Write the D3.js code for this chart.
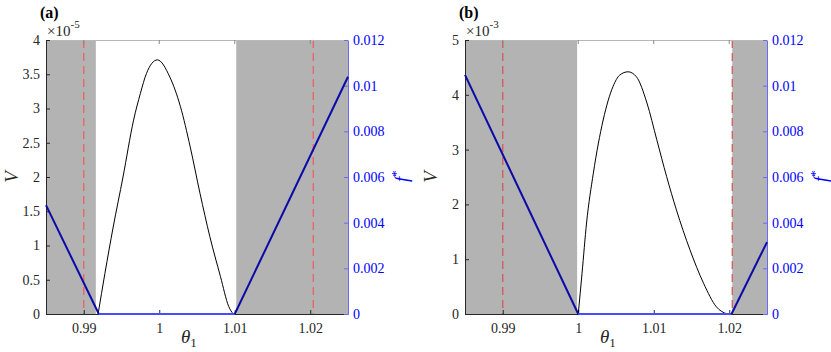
<!DOCTYPE html>
<html>
<head>
<meta charset="utf-8">
<script src="https://cdn.jsdelivr.net/npm/d3@7"></script>
<style>
  body { margin: 0; background: #fff; }
  #chart, #chart text { font-family: 'Liberation Serif', 'DejaVu Serif', 'Times New Roman', Times, serif !important; }
</style>
</head>
<body>
<svg id="chart" width="831" height="352"></svg>
<script>
// ---- data ----
const xTicks = [0.99, 1, 1.01, 1.02];
const xTickLabels = ["0.99", "1", "1.01", "1.02"];
const fTicks = [0, 0.002, 0.004, 0.006, 0.008, 0.01, 0.012];
const fTickLabels = ["0", "0.002", "0.004", "0.006", "0.008", "0.01", "0.012"];

// panel (a): V in units of 1e-5
const vTicksA = [0, 0.5, 1, 1.5, 2, 2.5, 3, 3.5, 4];
const vTickLabelsA = ["0", "0.5", "1", "1.5", "2", "2.5", "3", "3.5", "4"];
const thetaA = [0.9919, 0.9928, 0.9939, 0.9952, 0.9966, 0.9975, 0.9983, 0.99975, 1.0014, 1.0028, 1.0041, 1.0054, 1.0067, 1.0081, 1.0092, 1.0098];
const vA = [0, 0.59, 1.27, 2.00, 2.83, 3.22, 3.51, 3.71, 3.46, 3.03, 2.44, 1.76, 1.13, 0.55, 0.11, 0];
const fThetaA = [0.985, 0.9920, 1.0100, 1.025];
const fA = [0.00477, 0, 0, 0.01039];
const grayA = [[0.985, 0.9916], [1.0102, 1.025]];
const redA = [0.99, 1.0204];

// panel (b): V in units of 1e-3
const vTicksB = [0, 1, 2, 3, 4, 5];
const vTickLabelsB = ["0", "1", "2", "3", "4", "5"];
const thetaB = [1.0000, 1.0005, 1.0011, 1.0020, 1.0033, 1.0046, 1.0055, 1.0066, 1.0077, 1.0091, 1.0104, 1.0117, 1.0130, 1.0148, 1.0166, 1.0183, 1.0197];
const vB = [0, 0.74, 1.66, 2.57, 3.54, 4.15, 4.36, 4.42, 4.33, 3.85, 3.18, 2.51, 1.90, 1.17, 0.56, 0.13, 0];
const fThetaB = [0.985, 1.0000, 1.0203, 1.025];
const fB = [0.01047, 0, 0, 0.00315];
const grayB = [[0.985, 0.99985], [1.0204, 1.025]];
const redB = [0.99, 1.0204];

const svg = d3.select("#chart");
const plotTop = 40, plotBottom = 314;
const tickFont = 14;

function drawPanel(p) {
    const x = d3.scaleLinear().domain([0.985, 1.025]).range([p.left, p.right]);
    const yV = d3.scaleLinear().domain([0, p.vMax]).range([plotBottom, plotTop]);
    const yF = d3.scaleLinear().domain([0, 0.012]).range([plotBottom, plotTop]);
    const g = svg.append("g");

    // shaded regions
    g.selectAll("rect.shade").data(p.gray).enter().append("rect")
        .attr("x", d => x(d[0]))
        .attr("y", plotTop)
        .attr("width", d => x(d[1]) - x(d[0]))
        .attr("height", plotBottom - plotTop)
        .attr("fill", "#b3b3b3");

    // red dashed markers
    g.selectAll("line.red").data(p.red).enter().append("line")
        .attr("x1", d => x(d)).attr("x2", d => x(d))
        .attr("y1", plotTop).attr("y2", plotBottom)
        .attr("stroke", p.redColor)
        .attr("stroke-width", 1.3)
        .attr("stroke-dasharray", "8,5");

    // top border + top ticks
    g.append("line")
        .attr("x1", p.left).attr("x2", p.right)
        .attr("y1", plotTop + 0.5).attr("y2", plotTop + 0.5)
        .attr("stroke", "#b8b8b8");
    g.selectAll("line.ttick").data(xTicks).enter().append("line")
        .attr("x1", d => x(d)).attr("x2", d => x(d))
        .attr("y1", plotTop).attr("y2", plotTop + 4)
        .attr("stroke", "#888");

    // bottom axis
    const xAxis = d3.axisBottom(x).tickValues(xTicks)
        .tickFormat((d, i) => xTickLabels[i])
        .tickSizeInner(-4).tickSizeOuter(0).tickPadding(9);
    const gx = g.append("g").attr("transform", `translate(0,${plotBottom})`).call(xAxis);
    gx.select(".domain").attr("stroke", "#262626");
    gx.selectAll(".tick line").attr("stroke", "#262626");
    gx.selectAll("text").attr("font-size", tickFont).attr("fill", "#262626");

    // left axis
    const yAxis = d3.axisLeft(yV).tickValues(p.vTicks)
        .tickFormat((d, i) => p.vTickLabels[i])
        .tickSizeInner(-4).tickSizeOuter(0).tickPadding(6);
    const gy = g.append("g").attr("transform", `translate(${p.left},0)`).call(yAxis);
    gy.select(".domain").attr("stroke", "#262626");
    gy.selectAll(".tick line").attr("stroke", "#262626");
    gy.selectAll("text").attr("font-size", tickFont).attr("fill", "#262626");

    // right axis
    const fAxis = d3.axisRight(yF).tickValues(fTicks)
        .tickFormat((d, i) => fTickLabels[i])
        .tickSizeInner(-4).tickSizeOuter(0).tickPadding(5);
    const gf = g.append("g").attr("transform", `translate(${p.right},0)`).call(fAxis);
    gf.select(".domain").attr("stroke", "#6a6aff");
    gf.selectAll(".tick line").attr("stroke", "#6a6aff");
    gf.selectAll("text").attr("font-size", tickFont).attr("fill", "#0000ff");

    // V curve
    const vPts = p.theta.map((t, i) => [t, p.v[i]]);
    g.append("path")
        .datum(vPts)
        .attr("fill", "none")
        .attr("stroke", "#000")
        .attr("stroke-width", 1)
        .attr("d", d3.line().x(d => x(d[0])).y(d => yV(d[1])).curve(d3.curveMonotoneX));

    // f* line, flat part lighter
    const fPts = p.fTheta.map((t, i) => [t, p.f[i]]);
    const segs = d3.pairs(fPts);
    g.selectAll("line.f").data(segs).enter().append("line")
        .attr("x1", d => x(d[0][0])).attr("y1", d => yF(d[0][1]))
        .attr("x2", d => x(d[1][0])).attr("y2", d => yF(d[1][1]))
        .attr("stroke", d => (d[0][1] === 0 && d[1][1] === 0) ? "#4a4aff" : "#0a0aa8")
        .attr("stroke-width", 2);

    // panel label
    g.append("text")
        .attr("x", p.left - 6).attr("y", 18)
        .attr("font-size", 16).attr("font-weight", "bold")
        .text(p.tag);

    // exponent
    const ex = g.append("text")
        .attr("x", p.left + 1).attr("y", 36)
        .attr("font-size", 15).attr("fill", "#262626");
    ex.append("tspan").text("\u00d710");
    ex.append("tspan").attr("dy", -8).attr("font-size", 11).text(p.exp);

    // x label
    const xl = g.append("text")
        .attr("x", (p.left + p.right) / 2 - 16).attr("y", 343)
        .attr("font-size", 19).attr("fill", "#262626");
    xl.append("tspan").attr("font-style", "italic").text("\u03b8");
    xl.append("tspan").attr("dy", 4).attr("font-size", 13).text("1");

    // left label V
    g.append("text")
        .attr("transform", `translate(${p.left - 28},177) rotate(-90)`)
        .attr("text-anchor", "middle")
        .attr("font-size", 19).attr("font-style", "italic")
        .attr("fill", "#262626")
        .text("V");

    // right label f*
    const fl = g.append("text")
        .attr("transform", `translate(${p.right + 60},182) rotate(-90)`)
        .attr("font-size", 19).attr("fill", "#0000ff");
    fl.append("tspan").attr("font-style", "italic").text("f");
    fl.append("tspan").attr("dy", -8).attr("font-size", 13).text("*");
}

drawPanel({
    tag: "(a)", exp: "-5", left: 46, right: 348, vMax: 4,
    vTicks: vTicksA, vTickLabels: vTickLabelsA,
    theta: thetaA, v: vA, fTheta: fThetaA, f: fA,
    gray: grayA, red: redA, redColor: "#f06060"
});
drawPanel({
    tag: "(b)", exp: "-3", left: 465, right: 767, vMax: 5,
    vTicks: vTicksB, vTickLabels: vTickLabelsB,
    theta: thetaB, v: vB, fTheta: fThetaB, f: fB,
    gray: grayB, red: redB, redColor: "#d25a5a"
});
</script>
</body>
</html>
